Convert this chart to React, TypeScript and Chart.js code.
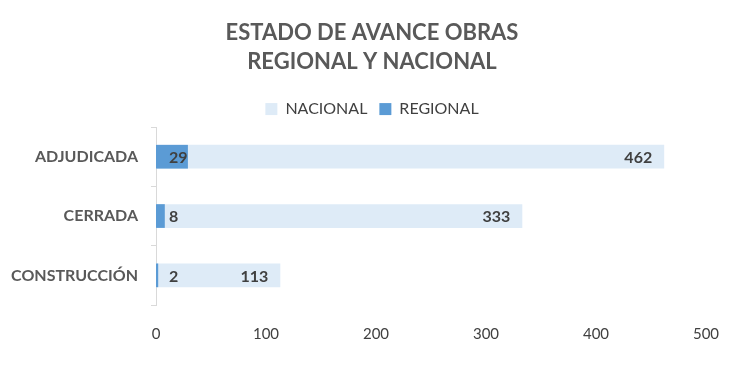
import React, { useEffect, useRef } from "react";
import { Chart, registerables } from "chart.js";

Chart.register(...registerables);

const categories = ["ADJUDICADA", "CERRADA", "CONSTRUCCIÓN"];
const regionalValues = [29, 8, 2];
const nacionalValues = [462, 333, 113];
const titleLines = ["ESTADO DE AVANCE OBRAS", "REGIONAL Y NACIONAL"];
const xMin = 0;
const xMax = 500;
const xStep = 100;

const FONT = "Lato, 'Open Sans', sans-serif";

const labelPlugin = {
  id: "barValueLabels",
  afterLayout(chart: any) {
    const y = chart.scales.y;
    if (y) {
      y.width = y.right;
      y.left = 0;
    }
  },
  afterDatasetsDraw(chart: any) {
    const ctx = chart.ctx;
    ctx.save();
    ctx.font = `bold 16px ${FONT}`;
    ctx.fillStyle = "#404040";
    ctx.textBaseline = "middle";
    chart.data.datasets.forEach((ds: any, di: number) => {
      const meta = chart.getDatasetMeta(di);
      meta.data.forEach((bar: any, i: number) => {
        const v = ds.data[i];
        if (ds.label === "REGIONAL") {
          ctx.textAlign = "left";
          ctx.fillText(String(v), bar.base + 13, bar.y + 1);
        } else {
          ctx.textAlign = "right";
          ctx.fillText(String(v), bar.x - 12, bar.y + 1);
        }
      });
    });
    ctx.restore();
  },
};

export default function App() {
  const ref = useRef<HTMLCanvasElement | null>(null);
  useEffect(() => {
    document.body.style.margin = "0";
    const chart = new Chart(ref.current as HTMLCanvasElement, {
      type: "bar",
      data: {
        labels: categories,
        datasets: [
          {
            label: "REGIONAL",
            data: regionalValues,
            backgroundColor: "#5B9BD5",
            barPercentage: 0.4,
            categoryPercentage: 1,
            grouped: false,
          } as any,
          {
            label: "NACIONAL",
            data: nacionalValues,
            backgroundColor: "#DEEBF7",
            barPercentage: 0.4,
            categoryPercentage: 1,
            grouped: false,
          } as any,
        ],
      },
      options: {
        indexAxis: "y",
        responsive: false,
        animation: false,
        layout: { padding: { left: 38, right: 38, top: 0, bottom: 0 } },
        plugins: {
          title: {
            display: true,
            text: titleLines,
            color: "#595959",
            font: { family: FONT, size: 22, weight: "bold", lineHeight: 1.32 },
            padding: { top: 18, bottom: 13 },
          },
          legend: {
            reverse: true,
            labels: {
              boxWidth: 12,
              boxHeight: 12,
              color: "#404040",
              font: { family: FONT, size: 16 },
              padding: 12,
            },
          },
          tooltip: { enabled: false },
        },
        scales: {
          x: {
            min: xMin,
            max: xMax,
            ticks: {
              stepSize: xStep,
              color: "#404040",
              font: { family: FONT, size: 15 },
              padding: 12,
            },
            grid: { display: false },
            border: { display: false },
            afterFit: (s: any) => {
              s.height = 76;
            },
          },
          y: {
            offset: true,
            grid: {
              offset: true,
              drawOnChartArea: false,
              drawTicks: true,
              tickLength: 5,
              color: "#D9D9D9",
            },
            border: { display: true, color: "#D9D9D9" },
            ticks: {
              color: "#595959",
              font: { family: FONT, size: 16, weight: "bold" },
              padding: 13,
            },
            afterFit: (s: any) => {
              s.width = 118;
            },
          },
        },
      },
      plugins: [labelPlugin],
    });
    return () => chart.destroy();
  }, []);
  return (
    <div style={{ width: 744, height: 381 }}>
      <canvas ref={ref} width={744} height={381} />
    </div>
  );
}
